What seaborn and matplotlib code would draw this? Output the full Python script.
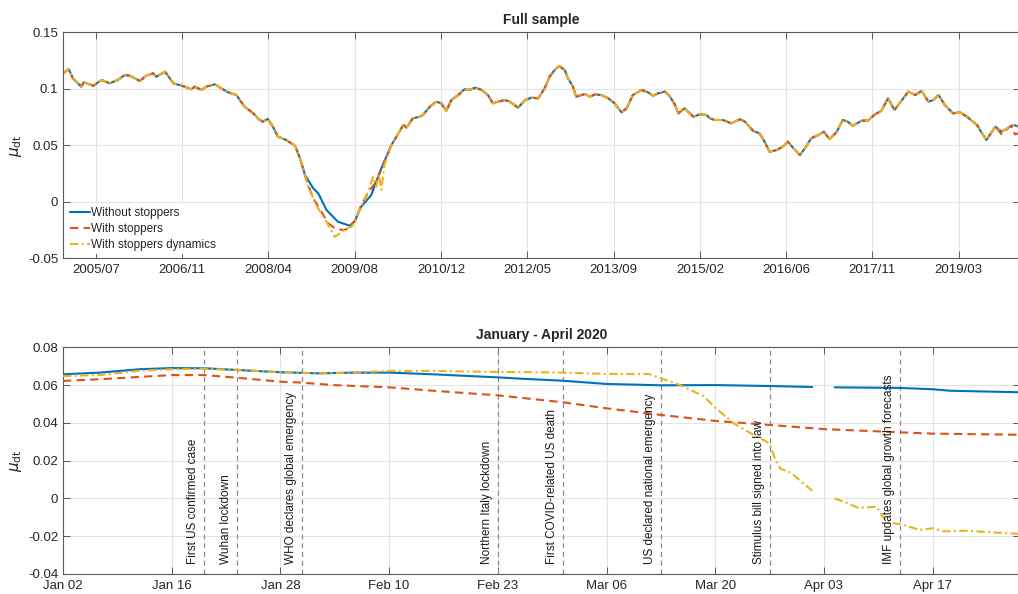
import numpy as np
import pandas as pd
import matplotlib
matplotlib.use("Agg")
import matplotlib.pyplot as plt
import seaborn as sns

# ---------------------------------------------------------------------------
# Full sample: drift estimates, time in decimal years
# ---------------------------------------------------------------------------
series_names = ["Without stoppers", "With stoppers", "With stoppers dynamics"]
series_colors = ["#0072BD", "#D95319", "#EDB120"]

# shared path before the crisis
yr_early = [2005.00, 2005.09, 2005.16, 2005.24, 2005.29, 2005.33, 2005.48, 2005.61,
            2005.74, 2005.87, 2005.98, 2006.06, 2006.22, 2006.32, 2006.43, 2006.48,
            2006.62, 2006.75, 2006.93, 2007.04, 2007.09, 2007.20, 2007.27, 2007.41,
            2007.51, 2007.62, 2007.75, 2007.88, 2008.02, 2008.10, 2008.17, 2008.25,
            2008.33, 2008.41, 2008.54, 2008.68, 2008.76]
mu_early = [0.1135, 0.1175, 0.1090, 0.1047, 0.1019, 0.1058, 0.1027, 0.1078,
            0.1049, 0.1078, 0.1122, 0.1116, 0.1069, 0.1116, 0.1137, 0.1107,
            0.1151, 0.1049, 0.1019, 0.0996, 0.1019, 0.0989, 0.1019, 0.1040,
            0.1004, 0.0969, 0.0945, 0.0842, 0.0783, 0.0733, 0.0709, 0.0733,
            0.0665, 0.0577, 0.0547, 0.0497, 0.0385]

# crisis trough, one path per model
yr_crisis_base = [2008.84, 2008.97, 2009.05, 2009.18, 2009.36, 2009.55, 2009.63,
                  2009.73, 2009.89, 2010.05]
mu_crisis_base = [0.0237, 0.0119, 0.0075, -0.0073, -0.0176, -0.0212, -0.0170,
                  -0.0044, 0.0060, 0.0296]
yr_crisis_stop = [2008.87, 2008.97, 2009.10, 2009.21, 2009.31, 2009.44, 2009.52,
                  2009.63, 2009.73, 2009.80, 2009.89, 2009.97, 2010.05]
mu_crisis_stop = [0.0176, 0.0031, -0.0088, -0.0190, -0.0234, -0.0250, -0.0240,
                  -0.0170, -0.0030, 0.0040, 0.0119, 0.0180, 0.0290]
yr_crisis_dyn = [2008.90, 2009.02, 2009.18, 2009.31, 2009.39, 2009.50, 2009.58,
                 2009.63, 2009.73, 2009.84, 2009.92, 2009.97, 2010.01, 2010.05,
                 2010.10]
mu_crisis_dyn = [0.0119, -0.0032, -0.0176, -0.0310, -0.0280, -0.0234, -0.0220,
                 -0.0170, -0.0040, 0.0089, 0.0222, 0.0133, 0.0240, 0.0106,
                 0.0327]

# shared path after the crisis
yr_late = [2010.21, 2010.32, 2010.40, 2010.45, 2010.55, 2010.66, 2010.71, 2010.82,
           2010.92, 2011.00, 2011.08, 2011.16, 2011.27, 2011.37, 2011.45, 2011.54,
           2011.64, 2011.74, 2011.82, 2011.90, 2012.01, 2012.09, 2012.22, 2012.33,
           2012.43, 2012.54, 2012.64, 2012.72, 2012.80, 2012.87, 2012.96, 2013.01,
           2013.09, 2013.14, 2013.28, 2013.36, 2013.44, 2013.54, 2013.65, 2013.75,
           2013.86, 2013.94, 2014.04, 2014.18, 2014.28, 2014.36, 2014.44, 2014.55,
           2014.63, 2014.71, 2014.76, 2014.86, 2015.00, 2015.10, 2015.21, 2015.26,
           2015.34, 2015.47, 2015.60, 2015.74, 2015.82, 2015.95, 2016.05, 2016.13,
           2016.21, 2016.32, 2016.42, 2016.50, 2016.58, 2016.69, 2016.77, 2016.87,
           2016.98, 2017.07, 2017.16, 2017.27, 2017.37, 2017.45, 2017.53, 2017.67,
           2017.77, 2017.88, 2017.98, 2018.09, 2018.19, 2018.31, 2018.41, 2018.52,
           2018.62, 2018.73, 2018.81, 2018.89, 2018.99, 2019.12, 2019.23, 2019.34,
           2019.50, 2019.58, 2019.65, 2019.79]
mu_late = [0.0502, 0.0606, 0.0680, 0.0656, 0.0739, 0.0753, 0.0768, 0.0842,
           0.0886, 0.0872, 0.0804, 0.0901, 0.0945, 0.0996, 0.0990, 0.1010,
           0.0990, 0.0945, 0.0872, 0.0886, 0.0901, 0.0886, 0.0833, 0.0901,
           0.0921, 0.0916, 0.1004, 0.1107, 0.1166, 0.1202, 0.1166, 0.1093,
           0.1019, 0.0930, 0.0954, 0.0930, 0.0951, 0.0945, 0.0916, 0.0872,
           0.0792, 0.0827, 0.0945, 0.0990, 0.0969, 0.0939, 0.0960, 0.0975,
           0.0930, 0.0857, 0.0783, 0.0827, 0.0753, 0.0774, 0.0768, 0.0739,
           0.0724, 0.0724, 0.0695, 0.0730, 0.0709, 0.0627, 0.0606, 0.0532,
           0.0443, 0.0458, 0.0488, 0.0532, 0.0479, 0.0414, 0.0473, 0.0562,
           0.0591, 0.0620, 0.0555, 0.0615, 0.0724, 0.0709, 0.0673, 0.0718,
           0.0718, 0.0774, 0.0804, 0.0916, 0.0812, 0.0901, 0.0975, 0.0945,
           0.0981, 0.0886, 0.0901, 0.0945, 0.0857, 0.0783, 0.0792, 0.0753,
           0.0680, 0.0606, 0.0547, 0.0665]

# last weeks of the sample
yr_tail = [2019.89, 2020.02, 2020.08, 2020.19]
mu_tail = [0.0620, 0.0665, 0.0680, 0.0660]
yr_tail_stop = [2019.89, 2019.95, 2020.02, 2020.07, 2020.10, 2020.19]
mu_tail_stop = [0.0598, 0.0630, 0.0665, 0.0660, 0.0597, 0.0610]

full_ticks_start = "2005-07-10"
full_tick_labels = ["2005/07", "2006/11", "2008/04", "2009/08", "2010/12", "2012/05",
                    "2013/09", "2015/02", "2016/06", "2017/11", "2019/03"]
full_yticks = [-0.05, 0.0, 0.05, 0.10, 0.15]
full_ytick_labels = ["-0.05", "0", "0.05", "0.1", "0.15"]

# ---------------------------------------------------------------------------
# January - April 2020, observation index on the horizontal axis
# ---------------------------------------------------------------------------
t_base = [0, 4.4, 9.2, 13.0, 16.9, 20.8, 26.0, 30.7, 34.7, 39.0, 44.3, 51.9, 54.7,
          59.8, 65.0, 71.5, 78.1, 84.5, 89.6,
          92.3, 100.1, 104.0, 106.1, 114.5]
mu_base_2020 = [0.0657, 0.0666, 0.0684, 0.0690, 0.0689, 0.0680, 0.0668, 0.0662,
                0.0666, 0.0666, 0.0657, 0.0641, 0.0634, 0.0623, 0.0606, 0.0599,
                0.0600, 0.0595, 0.0590,
                0.0588, 0.0585, 0.0578, 0.0570, 0.0562]
seg_base_2020 = [0] * 19 + [1] * 5

t_stop = [0, 4.4, 13.0, 16.9, 20.8, 26.0, 28.6, 32.3, 39.0, 44.3, 51.9, 54.7, 59.8,
          65.0, 71.5, 78.1, 84.5, 91.0, 100.1, 104.0, 114.5]
mu_stop_2020 = [0.0622, 0.0631, 0.0653, 0.0653, 0.0639, 0.0618, 0.0613, 0.0600,
                0.0588, 0.0570, 0.0546, 0.0533, 0.0509, 0.0477, 0.0442, 0.0410,
                0.0389, 0.0367, 0.0350, 0.0343, 0.0337]

t_dyn = [0, 4.4, 9.2, 13.0, 16.9, 20.8, 26.0, 30.7, 34.7, 39.0, 44.3, 51.9, 54.7,
         59.8, 65.0, 70.0, 71.5, 73.8, 76.6, 78.1, 80.2, 82.6, 83.8, 84.5, 85.2,
         85.8, 87.0, 89.6,
         92.3, 93.7, 95.1, 97.3, 98.5, 100.1, 102.5, 104.0, 105.3, 108.1, 110.9,
         114.5]
mu_dyn_2020 = [0.0648, 0.0653, 0.0676, 0.0684, 0.0687, 0.0680, 0.0668, 0.0662,
               0.0666, 0.0675, 0.0675, 0.0669, 0.0669, 0.0666, 0.0659, 0.0659,
               0.0636, 0.0600, 0.0542, 0.0477, 0.0398, 0.0336, 0.0309, 0.0290,
               0.0203, 0.0157, 0.0137, 0.0041,
               0.0000, -0.0023, -0.0050, -0.0044, -0.0128, -0.0135, -0.0167,
               -0.0158, -0.0174, -0.0171, -0.0179, -0.0188]
seg_dyn_2020 = [0] * 28 + [1] * 12

tick_pos_2020 = [0, 13, 26, 39, 52, 65, 78, 91, 104]
tick_labels_2020 = ["Jan 02", "Jan 16", "Jan 28", "Feb 10", "Feb 23", "Mar 06",
                    "Mar 20", "Apr 03", "Apr 17"]
yticks_2020 = [-0.04, -0.02, 0.0, 0.02, 0.04, 0.06, 0.08]
ytick_labels_2020 = ["-0.04", "-0.02", "0", "0.02", "0.04", "0.06", "0.08"]

event_names = ["First US confirmed case", "Wuhan lockdown", "WHO declares global emergency",
               "Northern Italy lockdown", "First COVID-related US death",
               "US declared national emergency", "Stimulus bill signed into law",
               "IMF updates global growth forecasts"]
event_pos = [16.9, 20.8, 28.6, 52.0, 59.8, 71.5, 84.5, 100.1]


def to_dates(years):
    years = np.asarray(years, dtype=float)
    return pd.to_datetime("2005-01-01") + pd.to_timedelta((years - 2005.0) * 365.25, unit="D")


# ---------------------------------------------------------------------------
# Style
# ---------------------------------------------------------------------------
sns.set_theme(style="ticks")
plt.rcParams["font.family"] = ["Liberation Sans", "DejaVu Sans"]
plt.rcParams.update({
    "axes.edgecolor": "#5a5a5a",
    "axes.linewidth": 0.8,
    "xtick.color": "#5a5a5a",
    "ytick.color": "#5a5a5a",
    "xtick.labelcolor": "#262626",
    "ytick.labelcolor": "#262626",
    "xtick.labelsize": 9.5,
    "ytick.labelsize": 9.5,
    "xtick.direction": "in",
    "ytick.direction": "in",
    "xtick.major.size": 5,
    "ytick.major.size": 5,
    "xtick.major.width": 0.7,
    "ytick.major.width": 0.7,
    "xtick.major.pad": 4,
    "ytick.major.pad": 3.5,
    "axes.titlesize": 10,
    "axes.titleweight": "bold",
    "axes.labelsize": 11,
})

W, H = 1018, 594
fig = plt.figure(figsize=(W / 100, H / 100), dpi=100)
ax1 = fig.add_axes([63 / W, 1 - 258.3 / H, (1020 - 63) / W, 226 / H])
ax2 = fig.add_axes([63 / W, 1 - 574 / H, (1020 - 63) / W, 226.7 / H])

styles = ["-", (0, (4, 2.5)), (0, (4, 1.6, 1, 1.6))]

# ---------------------------------------------------------------------------
# Top panel: full sample
# ---------------------------------------------------------------------------
full_paths = [
    (yr_early + yr_crisis_base + yr_late + yr_tail,
     mu_early + mu_crisis_base + mu_late + mu_tail),
    (yr_early + yr_crisis_stop + yr_late + yr_tail_stop,
     mu_early + mu_crisis_stop + mu_late + mu_tail_stop),
    (yr_early + yr_crisis_dyn + yr_late + yr_tail,
     mu_early + mu_crisis_dyn + mu_late + mu_tail),
]
for (yrs, mus), name, col, ls in zip(full_paths, series_names, series_colors, styles):
    df = pd.DataFrame({"date": to_dates(yrs), "mu": mus})
    sns.lineplot(data=df, x="date", y="mu", ax=ax1, color=col, linestyle=ls,
                 linewidth=1.5, label=name, estimator=None, sort=False)

tick_dates = pd.date_range(full_ticks_start, periods=len(full_tick_labels), freq="500D")
ax1.set_xticks(tick_dates)
ax1.set_xticklabels(full_tick_labels)
ax1.set_xlim(to_dates([2005.0])[0], to_dates([2020.182])[0])
ax1.set_yticks(full_yticks)
ax1.set_yticklabels(full_ytick_labels)
ax1.set_ylim(-0.05, 0.15)
ax1.set_title("Full sample", pad=6)
ax1.set_xlabel("")
ax1.set_ylabel(r"$\mu_{\rm dt}$", labelpad=3)

leg = ax1.legend(loc="lower left", fontsize=8.5, frameon=True, facecolor="white",
                 edgecolor="none", framealpha=1, handlelength=1.7, handletextpad=0.1,
                 labelspacing=0.35, borderpad=0.25, borderaxespad=0.35)

# ---------------------------------------------------------------------------
# Bottom panel: January - April 2020
# ---------------------------------------------------------------------------
for pos in event_pos:
    ax2.axvline(pos, color="#8a8a8a", linestyle=(0, (4, 3)), linewidth=0.9, zorder=1.5)

df_b = pd.DataFrame({"t": t_base, "mu": mu_base_2020, "seg": seg_base_2020})
sns.lineplot(data=df_b, x="t", y="mu", units="seg", estimator=None, ax=ax2,
             color=series_colors[0], linestyle=styles[0], linewidth=1.5, zorder=3)
df_s = pd.DataFrame({"t": t_stop, "mu": mu_stop_2020})
sns.lineplot(data=df_s, x="t", y="mu", estimator=None, ax=ax2,
             color=series_colors[1], linestyle=styles[1], linewidth=1.5, zorder=3)
df_d = pd.DataFrame({"t": t_dyn, "mu": mu_dyn_2020, "seg": seg_dyn_2020})
sns.lineplot(data=df_d, x="t", y="mu", units="seg", estimator=None, ax=ax2,
             color=series_colors[2], linestyle=styles[2], linewidth=1.5, zorder=3)

for name, pos in zip(event_names, event_pos):
    ax2.annotate(name, xy=(pos, -0.0347), xytext=(-3.5, 0), textcoords="offset points",
                 rotation=90, ha="right", va="bottom", fontsize=8.5, color="#1a1a1a",
                 zorder=4)

ax2.set_xticks(tick_pos_2020)
ax2.set_xticklabels(tick_labels_2020)
ax2.set_xlim(0, 114.45)
ax2.set_yticks(yticks_2020)
ax2.set_yticklabels(ytick_labels_2020)
ax2.set_ylim(-0.04, 0.08)
ax2.set_title("January - April 2020", pad=6)
ax2.set_xlabel("")
ax2.set_ylabel(r"$\mu_{\rm dt}$", labelpad=3)

for ax in (ax1, ax2):
    ax.grid(True, color="#e3e3e3", linewidth=0.8)
    ax.set_axisbelow(True)
    ax.tick_params(top=True, right=True)
    for side in ("top", "bottom", "left", "right"):
        ax.spines[side].set_visible(True)

fig.savefig("out.png", dpi=100)
